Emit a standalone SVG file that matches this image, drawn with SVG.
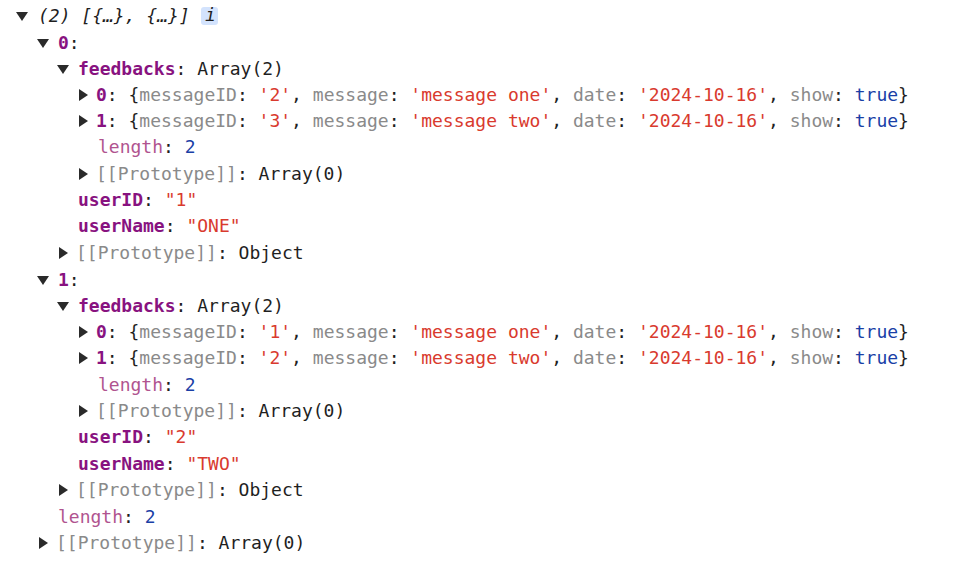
<svg xmlns="http://www.w3.org/2000/svg" width="975" height="562" viewBox="0 0 975 562">
<style>
text{font-family:"DejaVu Sans Mono","Liberation Mono",monospace;font-size:18px;fill:#1f1f1f;white-space:pre}
.k{fill:#881280;font-weight:bold}
.l{fill:#b0548f}
.g{fill:#8a8a8a}
.s{fill:#d93a2e}
.b{fill:#1a3fa6}
.tri{fill:#2a2a2a}
</style>
<rect width="975" height="562" fill="#fff"/>
<defs>
<path id="d" d="M-6,-4 L6,-4 L0,5 Z"/>
<path id="r" d="M-4,-6 L5,0 L-4,6 Z"/>
</defs>
<g id="tree">
<use href="#d" x="22" y="16" class="tri"/>
<text x="38" y="22" font-style="italic">(2) [{…}, {…}]</text>
<rect x="201" y="7" width="17" height="18" rx="3" fill="#d3e3fd"/>
<text x="205" y="21" font-style="italic" font-size="14" fill="#1f1f1f">i</text>

<use href="#d" x="43" y="43" class="tri"/>
<text x="58" y="49"><tspan class="k">0</tspan>:</text>
<use href="#d" x="63" y="69" class="tri"/>
<text x="78" y="75"><tspan class="k">feedbacks</tspan>: Array(2)</text>
<use href="#r" x="83" y="95" class="tri"/>
<text x="96" y="101"><tspan class="k">0</tspan>: {<tspan class="g">messageID</tspan>: <tspan class="s">'2'</tspan>, <tspan class="g">message</tspan>: <tspan class="s">'message one'</tspan>, <tspan class="g">date</tspan>: <tspan class="s">'2024-10-16'</tspan>, <tspan class="g">show</tspan>: <tspan class="b">true</tspan>}</text>
<use href="#r" x="83" y="121" class="tri"/>
<text x="96" y="127"><tspan class="k">1</tspan>: {<tspan class="g">messageID</tspan>: <tspan class="s">'3'</tspan>, <tspan class="g">message</tspan>: <tspan class="s">'message two'</tspan>, <tspan class="g">date</tspan>: <tspan class="s">'2024-10-16'</tspan>, <tspan class="g">show</tspan>: <tspan class="b">true</tspan>}</text>
<text x="98" y="153"><tspan class="l">length</tspan>: <tspan class="b">2</tspan></text>
<use href="#r" x="83" y="174" class="tri"/>
<text x="96" y="180"><tspan class="g">[[Prototype]]</tspan>: Array(0)</text>
<text x="78" y="206"><tspan class="k">userID</tspan>: <tspan class="s">"1"</tspan></text>
<text x="78" y="232"><tspan class="k">userName</tspan>: <tspan class="s">"ONE"</tspan></text>
<use href="#r" x="63" y="253" class="tri"/>
<text x="76" y="259"><tspan class="g">[[Prototype]]</tspan>: Object</text>

<use href="#d" x="43" y="280" class="tri"/>
<text x="58" y="286"><tspan class="k">1</tspan>:</text>
<use href="#d" x="63" y="306" class="tri"/>
<text x="78" y="312"><tspan class="k">feedbacks</tspan>: Array(2)</text>
<use href="#r" x="83" y="332" class="tri"/>
<text x="96" y="338"><tspan class="k">0</tspan>: {<tspan class="g">messageID</tspan>: <tspan class="s">'1'</tspan>, <tspan class="g">message</tspan>: <tspan class="s">'message one'</tspan>, <tspan class="g">date</tspan>: <tspan class="s">'2024-10-16'</tspan>, <tspan class="g">show</tspan>: <tspan class="b">true</tspan>}</text>
<use href="#r" x="83" y="358" class="tri"/>
<text x="96" y="364"><tspan class="k">1</tspan>: {<tspan class="g">messageID</tspan>: <tspan class="s">'2'</tspan>, <tspan class="g">message</tspan>: <tspan class="s">'message two'</tspan>, <tspan class="g">date</tspan>: <tspan class="s">'2024-10-16'</tspan>, <tspan class="g">show</tspan>: <tspan class="b">true</tspan>}</text>
<text x="98" y="391"><tspan class="l">length</tspan>: <tspan class="b">2</tspan></text>
<use href="#r" x="83" y="411" class="tri"/>
<text x="96" y="417"><tspan class="g">[[Prototype]]</tspan>: Array(0)</text>
<text x="78" y="443"><tspan class="k">userID</tspan>: <tspan class="s">"2"</tspan></text>
<text x="78" y="470"><tspan class="k">userName</tspan>: <tspan class="s">"TWO"</tspan></text>
<use href="#r" x="63" y="490" class="tri"/>
<text x="76" y="496"><tspan class="g">[[Prototype]]</tspan>: Object</text>
<text x="58" y="523"><tspan class="l">length</tspan>: <tspan class="b">2</tspan></text>
<use href="#r" x="43" y="543" class="tri"/>
<text x="56" y="549"><tspan class="g">[[Prototype]]</tspan>: Array(0)</text>
</g>
</svg>
